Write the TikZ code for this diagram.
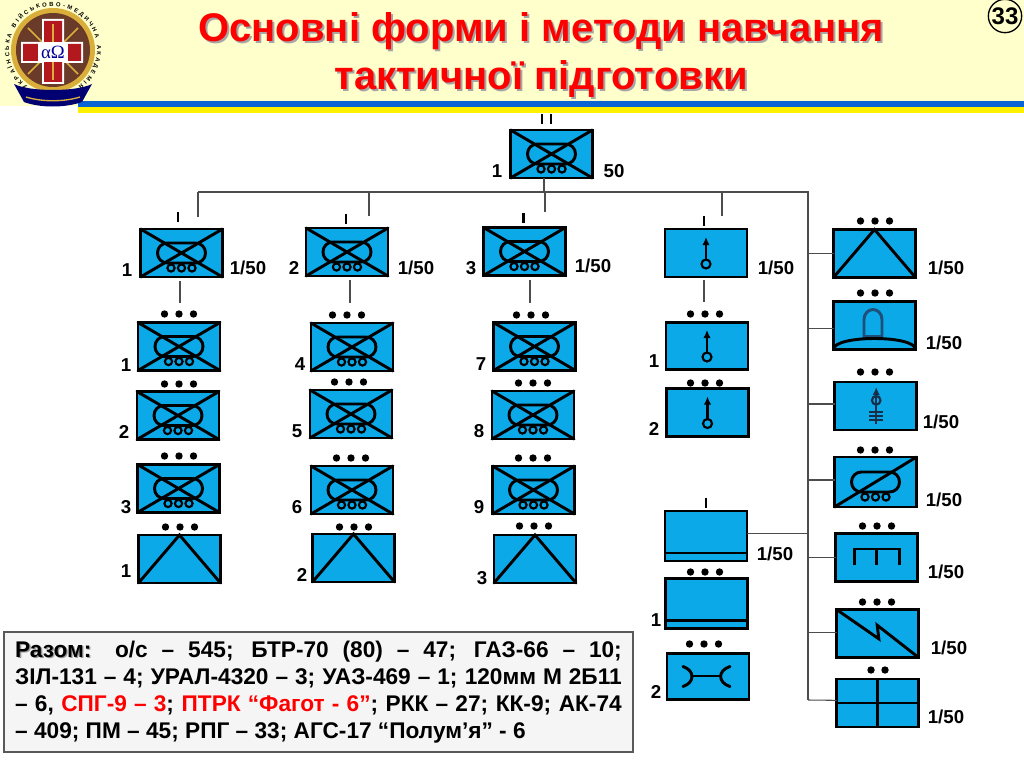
\documentclass[tikz,border=0pt]{standalone}
\usepackage{fontspec}
\setmainfont{Liberation Sans}
\newfontfamily\greekserif{Liberation Serif}
\usetikzlibrary{calc,decorations.text,arrows.meta}
\definecolor{unitblue}{HTML}{0CA9E9}
\definecolor{headcream}{HTML}{FFFFCC}
\definecolor{stripeblue}{HTML}{0A64D2}
\definecolor{stripeyellow}{HTML}{FFF000}
\definecolor{archblue}{HTML}{1F4E79}
\definecolor{sealbrown}{HTML}{6A3B28}
\definecolor{sealgold}{HTML}{D9AE3A}
\definecolor{sealred}{HTML}{B3181F}
\tikzset{
  unitbox/.style={draw=black, fill=unitblue, line width=2.2pt, inner sep=0pt, outer sep=0pt,
    minimum width=61.5pt, minimum height=36pt},
  symline/.style={line width=2.2pt, line cap=round},
  thinsym/.style={line width=1.6pt},
  rockettip/.style={-{Latex[length=6pt,width=5.5pt]}},
  link/.style={draw=black!70, line width=0.8pt},
  tickmark/.style={line width=2pt},
  numlabel/.style={font=\fontsize{14}{16}\selectfont\bfseries, inner sep=0pt},
}
\newcommand{\threedots}[2]{%
  \fill (#1-14.5,#2) circle (3.7) (#1,#2) circle (3.7) (#1+14.5,#2) circle (3.7);}
\newcommand{\tankbody}[1]{%
  \begin{scope}[shift={(#1.center)}]
    \draw[thinsym] (-10.5,15) circle (3.6) (0,15) circle (3.6) (10.5,15) circle (3.6);
    \draw[symline, rounded corners=7.4pt] (-24,-10) rectangle (24,10);
  \end{scope}}
\newcommand{\tankmark}[1]{%
  \tankbody{#1}
  \draw[symline] (#1.north west) -- (#1.south east) (#1.north east) -- (#1.south west);}
\newcommand{\trianglemark}[1]{%
  \draw[symline, line join=miter] (#1.south west) -- (#1.north) -- (#1.south east);}
\newcommand{\rocketmark}[1]{%
  \begin{scope}[shift={(#1.center)}]
    \draw[thinsym] (0,11) circle (4.5);
    \draw[thinsym, rockettip] (0,6.5) -- (0,-16);
  \end{scope}}
\newcommand{\lowbarmark}[1]{%
  \draw[symline, line cap=butt] ([yshift=6pt]#1.south west) -- ([yshift=6pt]#1.south east);}

\begin{document}
\begin{tikzpicture}[x=0.75pt, y=-0.75pt, line width=0.8pt]
  \useasboundingbox (0,0) rectangle (1024,767);
  % шапка
  \fill[headcream] (0,0) rectangle (1024,101);
  \fill[headcream] (0,0) rectangle (78,106);
  \fill[stripeblue] (78,101) rectangle (1024,107);
  \fill[stripeyellow] (78,107) rectangle (1024,113);
  \node[font=\fontsize{30}{36}\selectfont\bfseries, text=black!35, align=center] (titleshadow) at (543,57)
    {Основні форми і методи навчання\\тактичної підготовки};
  \node[font=\fontsize{30}{36}\selectfont\bfseries, text=red, align=center] (title) at (541,55)
    {Основні форми і методи навчання\\тактичної підготовки};
  \node[draw, circle, line width=1pt, minimum size=25pt, inner sep=0pt, font=\fontsize{18}{20}\selectfont\bfseries] (pagenum) at (1005,16) {33};
  % герб
  \fill[sealgold] (53,50) circle (42);
  \fill[sealbrown] (53,50) circle (37);
  \draw[sealgold, line width=1.2pt] (28,28) -- (42,42) (78,28) -- (64,42) (28,74) -- (42,60) (78,74) -- (64,60);
  \fill[white] (42,19) rectangle (64,84) (21,42) rectangle (83,63);
  \fill[sealred] (44,21) rectangle (62,82) (23,44) rectangle (81,61);
  \draw[sealgold, line width=1.5pt] (53,24) -- (53,80);
  \node[fill=white, minimum width=22pt, minimum height=15pt, inner sep=0pt, font=\fontsize{14}{15}\greekserif, text=blue!60!black] (sealtext) at (53,52) {αΩ};
  \path[decorate, decoration={text along path, text align={fit to path},
      text={|\fontsize{4.4}{5}\selectfont\bfseries|УКРАЇНСЬКА ВІЙСЬКОВО-МЕДИЧНА АКАДЕМІЯ}}]
    (53,50) ++(125:44) arc[start angle=125, end angle=415, radius=44];
  \fill[blue!45!black] (14,84) .. controls (30,92) and (76,92) .. (92,84) -- (82,102) .. controls (65,108) and (40,108) .. (24,102) -- cycle;
  \draw[sealgold, line width=1pt] (26,97) .. controls (42,102) and (64,102) .. (80,97);
  % роти
  \node[unitbox] (hq) at (551.5,154) {}; \tankmark{hq}
  \node[unitbox] (a0) at (181.5,253) {}; \tankmark{a0}
  \node[unitbox] (a1) at (179,346.5) {}; \tankmark{a1}
  \node[unitbox] (a2) at (178,415.5) {}; \tankmark{a2}
  \node[unitbox] (a3) at (178.5,488.5) {}; \tankmark{a3}
  \node[unitbox] (a4) at (179.5,559) {}; \trianglemark{a4}
  \node[unitbox] (b0) at (347,252) {}; \tankmark{b0}
  \node[unitbox] (b1) at (352,347) {}; \tankmark{b1}
  \node[unitbox] (b2) at (351,414) {}; \tankmark{b2}
  \node[unitbox] (b3) at (352,490) {}; \tankmark{b3}
  \node[unitbox] (b4) at (353.5,558) {}; \trianglemark{b4}
  \node[unitbox] (c0) at (524.5,251.5) {}; \tankmark{c0}
  \node[unitbox] (c1) at (534.5,346.5) {}; \tankmark{c1}
  \node[unitbox] (c2) at (533,415) {}; \tankmark{c2}
  \node[unitbox] (c3) at (533.5,490) {}; \tankmark{c3}
  \node[unitbox] (c4) at (535,559) {}; \trianglemark{c4}
  % протитанкові взводи
  \node[unitbox] (d0) at (706,253) {}; \rocketmark{d0}
  \node[unitbox, minimum height=35pt] (d1) at (707,346) {}; \rocketmark{d1}
  \node[unitbox] (d2) at (707.5,412.5) {}; \rocketmark{d2}
  \node[unitbox, minimum height=37.5pt] (e0) at (706,536) {}; \lowbarmark{e0}
  \node[unitbox, minimum height=37.5pt] (e1) at (706.5,603.5) {}; \lowbarmark{e1}
  \node[unitbox, minimum height=35pt] (e2) at (708,676.5) {};
  \begin{scope}[shift={(e2.center)}]
    \draw[symline] (-25,-10) .. controls (-13,-6) and (-13,6) .. (-25,10);
    \draw[symline] (22,-10) .. controls (9.5,-6) and (9.5,6) .. (22,10);
    \draw[symline] (-16,-0.5) -- (12.5,-0.5);
  \end{scope}
  % правий стовпець
  \node[unitbox] (r1) at (874.5,253.5) {}; \trianglemark{r1}
  \node[unitbox] (r2) at (874.5,325.5) {};
  \begin{scope}[shift={(r2.center)}]
    \draw[symline, archblue] (-10.5,11) -- (-10.5,-6) arc[start angle=180, end angle=360, x radius=9, y radius=10] -- (7.5,11) -- cycle;
  \end{scope}
  \draw[symline] (r2.south west) .. controls ([yshift=11pt]r2.south west) and ([yshift=11pt]r2.south east) .. (r2.south east);
  \node[unitbox] (r3) at (875.5,406) {};
  \begin{scope}[shift={(r3.center)}]
    \draw[thinsym, archblue!60!black, rockettip] (0.7,18) -- (0.7,-19);
    \draw[thinsym, archblue!60!black] (0.7,-5.7) circle (4.3);
    \draw[thinsym, archblue!60!black] (-6.3,6.3) -- (7.7,6.3) (-6.3,10.3) -- (7.7,10.3) (-6.3,14.3) -- (7.7,14.3);
  \end{scope}
  \node[unitbox, minimum height=37.5pt] (r4) at (875.5,482) {}; \tankbody{r4}
  \draw[symline] (r4.south west) -- (r4.north east);
  \node[unitbox] (r5) at (876.5,557.5) {};
  \begin{scope}[shift={(r5.center)}]
    \draw[symline, line cap=butt, line join=miter] (-22,7.5) -- (-22,-8.5) -- (23,-8.5) -- (23,7.5) (0,-8.5) -- (0,7.5);
  \end{scope}
  \node[unitbox] (r6) at (877.5,633.5) {};
  \begin{scope}[shift={(r6.center)}]
    \draw[symline, line join=miter] (-41,-24) -- (1.3,5.3) -- (-0.3,-8.3) -- (41,24);
  \end{scope}
  \node[unitbox] (r7) at (877.5,703) {};
  \draw[symline, line cap=butt] (r7.west) -- (r7.east) (r7.north) -- (r7.south);
  % зв'язки
  \coordinate (busleft) at (198,192);
  \coordinate (busright) at (808,192);
  \coordinate (trunkend) at (808,700);
  \coordinate (hqbus) at (544,192);
  \coordinate (bdrop) at (369,216);
  \coordinate (cdrop) at (545,212);
  \coordinate (ddrop) at (722,216);
  \coordinate (adrop) at (198,217);
  \coordinate (alink) at (180,303);
  \coordinate (blink) at (350,303);
  \coordinate (clink) at (530,303);
  \coordinate (dlink) at (704,302);
  \draw[link] (busleft) -- (busright) -- (trunkend);
  \draw[link] (hq.south -| hqbus) -- (hqbus);
  \draw[link] (adrop |- busleft) -- (adrop);
  \draw[link] (bdrop |- busleft) -- (bdrop);
  \draw[link] (cdrop |- busleft) -- (cdrop);
  \draw[link] (ddrop |- busleft) -- (ddrop);
  \draw[link] ([yshift=-3pt]a0.south -| alink) -- (alink);
  \draw[link] ([yshift=-3pt]b0.south -| blink) -- (blink);
  \draw[link] ([yshift=-3pt]c0.south -| clink) -- (clink);
  \draw[link] ([yshift=-2pt]d0.south -| dlink) -- (dlink);
  \draw[link] ([yshift=2pt]e0.east) -- ([yshift=2pt]e0.east -| trunkend);
  \draw[link] (r1.west) -- (r1.west -| trunkend);
  \draw[link] ([yshift=-2pt]r2.west) -- ([yshift=-2pt]r2.west -| trunkend);
  \draw[link] ([yshift=1.5pt]r3.west) -- ([yshift=1.5pt]r3.west -| trunkend);
  \draw[link] ([yshift=1.5pt]r4.west) -- ([yshift=1.5pt]r4.west -| trunkend);
  \draw[link] (r5.west) -- (r5.west -| trunkend);
  \draw[link] ([yshift=1pt]r6.west) -- ([yshift=1pt]r6.west -| trunkend);
  \draw[link] ([yshift=2pt]r7.west) -- (trunkend);
  % позначки над знаками
  \draw[tickmark] (542,114) -- (542,124) (551,114) -- (551,124);
  \draw[tickmark] (178,212) -- (178,222);
  \draw[tickmark] (346,214) -- (346,224);
  \draw[tickmark] (523.5,213) -- (523.5,223);
  \draw[tickmark] (704,216) -- (704,226);
  \draw[tickmark] (706,498) -- (706,508);
  \threedots{179}{314} \threedots{179}{384} \threedots{179}{456} \threedots{180}{527}
  \threedots{347}{315} \threedots{349}{382} \threedots{351}{458} \threedots{354}{527}
  \threedots{531}{315} \threedots{533}{383} \threedots{533}{458} \threedots{534}{526}
  \threedots{705}{314} \threedots{705}{383} \threedots{705}{572} \threedots{704}{644}
  \threedots{875}{221} \threedots{875}{293} \threedots{875}{372} \threedots{875}{450}
  \threedots{877}{526} \threedots{877}{602}
  \fill (871,670) circle (3.7) (885,670) circle (3.7);
  % підписи
  \node[numlabel] (hqn) at (497,171) {1};
  \node[numlabel] (hqv) at (614,171) {50};
  \node[numlabel] (a0n) at (127,270) {1};
  \node[numlabel] (a0v) at (248,268) {1/50};
  \node[numlabel] (a1n) at (126,365) {1};
  \node[numlabel] (a2n) at (124,432) {2};
  \node[numlabel] (a3n) at (126,507) {3};
  \node[numlabel] (a4n) at (126,571) {1};
  \node[numlabel] (b0n) at (294,268) {2};
  \node[numlabel] (b0v) at (416,268) {1/50};
  \node[numlabel] (b1n) at (300,364) {4};
  \node[numlabel] (b2n) at (297,431) {5};
  \node[numlabel] (b3n) at (297,507) {6};
  \node[numlabel] (b4n) at (302,575) {2};
  \node[numlabel] (c0n) at (471,268) {3};
  \node[numlabel] (c0v) at (593,266) {1/50};
  \node[numlabel] (c1n) at (481,364) {7};
  \node[numlabel] (c2n) at (479,431) {8};
  \node[numlabel] (c3n) at (479,507) {9};
  \node[numlabel] (c4n) at (482,578) {3};
  \node[numlabel] (d0v) at (776,268) {1/50};
  \node[numlabel] (d1n) at (654,361) {1};
  \node[numlabel] (d2n) at (654,429) {2};
  \node[numlabel] (e0v) at (775,554) {1/50};
  \node[numlabel] (e1n) at (656,620) {1};
  \node[numlabel] (e2n) at (656,692) {2};
  \node[numlabel] (r1v) at (946,268) {1/50};
  \node[numlabel] (r2v) at (944,343) {1/50};
  \node[numlabel] (r3v) at (941,422) {1/50};
  \node[numlabel] (r4v) at (944,500) {1/50};
  \node[numlabel] (r5v) at (946,572) {1/50};
  \node[numlabel] (r6v) at (949,648) {1/50};
  \node[numlabel] (r7v) at (946,717) {1/50};
  % підсумок
  \node[draw=black!65, fill=black!4, line width=1.5pt, inner sep=0pt, minimum width=471.75pt, minimum height=90pt,
    font=\fontsize{17}{20.25}\selectfont\bfseries] (total) at (318.5,692) {%
    \raisebox{-2.2pt}{\begin{minipage}{455pt}
      \leavevmode\rlap{\kern1pt\raisebox{-1pt}{\textcolor{black!40}{Разом:}}}Разом: о/с – 545; БТР-70 (80) – 47; ГАЗ-66 – 10;\linebreak
      ЗІЛ-131 – 4; УРАЛ-4320 – 3; УАЗ-469 – 1; 120мм М 2Б11\linebreak
      – 6, \textcolor{red}{СПГ-9 – 3}; \textcolor{red}{ПТРК “Фагот - 6”}; РКК – 27; КК-9; АК-74\linebreak
      – 409; ПМ – 45; РПГ – 33; АГС-17 “Полум’я” - 6
    \end{minipage}}};
\end{tikzpicture}
\end{document}
